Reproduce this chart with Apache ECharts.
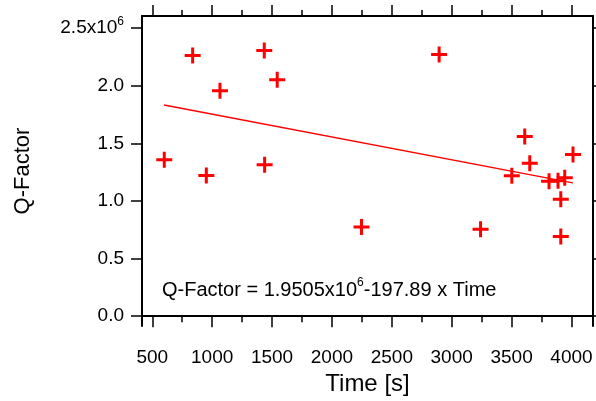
<!DOCTYPE html>
<html>
<head>
<meta charset="utf-8">
<script src="https://cdn.jsdelivr.net/npm/echarts@6/dist/echarts.min.js"></script>
<style>
  html, body { margin: 0; padding: 0; background: #fff; }
  #chart { width: 596px; height: 401px; }
</style>
</head>
<body>
<div id="chart"></div>
<script>
// measured points: time [s], Q-factor
const timeVals = [600, 837, 1065, 951, 1435, 1543, 1438, 2247, 2895, 3241, 3502, 3610, 3652, 3813, 3888, 3944, 3911, 3911, 4013];
const qVals = [1.358e6, 2.262e6, 1.956e6, 1.222e6, 2.305e6, 2.051e6, 1.315e6, 0.774e6, 2.270e6, 0.754e6,
               1.219e6, 1.560e6, 1.328e6, 1.170e6, 1.176e6, 1.202e6, 1.014e6, 0.691e6, 1.404e6];
// fit line end points
const fitLine = [[598, 1.832e6], [4012, 1.157e6]];

const xTicks = [500, 1000, 1500, 2000, 2500, 3000, 3500, 4000];
const xMinorTicks = [750, 1250, 1750, 2250, 2750, 3250, 3750];
const yTicks = [0, 0.5e6, 1.0e6, 1.5e6, 2.0e6, 2.5e6];

const X_MIN = 414, X_MAX = 4180;
const Y_MIN = -0.085e6, Y_MAX = 2.605e6;
const FONT = 'Liberation Sans, Arial, sans-serif';

const plus = 'path://M6.5,0 H9.5 V6.5 H16 V9.5 H9.5 V16 H6.5 V9.5 H0 V6.5 H6.5 Z';

const chart = echarts.init(document.getElementById('chart'));

function xAx(pos, ticks, len, main) {
  return {
    type: 'value', position: pos, min: X_MIN, max: X_MAX,
    name: main ? 'Time [s]' : '',
    nameLocation: 'middle', nameGap: 44,
    nameTextStyle: { fontFamily: FONT, fontSize: 24, color: '#000' },
    axisLine: { show: main, lineStyle: { color: '#000', width: 2 } },
    axisTick: { show: true, customValues: ticks, length: len, lineStyle: { color: '#000', width: 1.5 } },
    axisLabel: {
      show: main && pos === 'bottom', customValues: ticks, margin: 22,
      fontFamily: FONT, fontSize: 19, color: '#000',
      formatter: v => String(v)
    },
    splitLine: { show: false }
  };
}

const option = {
  backgroundColor: '#fff',
  animation: false,
  grid: { left: 142, right: 3, top: 16, bottom: 75, containLabel: false },
  title: {
    text: 'Q-Factor = 1.9505x10{sup|6}-197.89 x Time',
    left: 157, top: 272,
    textStyle: {
      fontFamily: FONT, fontSize: 20, fontWeight: 'normal', color: '#000',
      rich: { sup: { fontFamily: FONT, fontSize: 12, color: '#000', padding: [0, 0, 14, 0] } }
    }
  },
  xAxis: [
    xAx('bottom', xTicks, 11, true),
    xAx('bottom', xMinorTicks, 6, false),
    Object.assign(xAx('top', xTicks, 11, false), { axisLine: { show: true, lineStyle: { color: '#000', width: 2 } } }),
    xAx('top', xMinorTicks, 6, false)
  ],
  yAxis: [
    {
      type: 'value', position: 'left', min: Y_MIN, max: Y_MAX,
      name: 'Q-Factor', nameLocation: 'middle', nameGap: 108,
      nameTextStyle: { fontFamily: FONT, fontSize: 22, color: '#000' },
      axisLine: { show: true, lineStyle: { color: '#000', width: 2 } },
      axisTick: { show: true, customValues: yTicks, length: 11, lineStyle: { color: '#000', width: 1.5 } },
      axisLabel: {
        customValues: yTicks, margin: 18, fontFamily: FONT, fontSize: 19, color: '#000',
        formatter: function (v) {
          const s = (v / 1e6).toFixed(1);
          return v === 2.5e6 ? s + 'x10{sup|6}' : s;
        },
        rich: { sup: { fontFamily: FONT, fontSize: 12, color: '#000', padding: [0, 0, 12, 0] } }
      },
      splitLine: { show: false }
    },
    {
      type: 'value', position: 'right', min: Y_MIN, max: Y_MAX,
      axisLine: { show: true, lineStyle: { color: '#000', width: 2 } },
      axisTick: { show: true, customValues: yTicks, length: 11, lineStyle: { color: '#000', width: 1.5 } },
      axisLabel: { show: false },
      splitLine: { show: false }
    }
  ],
  series: [
    {
      type: 'line', xAxisIndex: 0, yAxisIndex: 0,
      data: fitLine, showSymbol: false, symbol: 'none',
      lineStyle: { color: '#ff0000', width: 1.5 }, z: 2
    },
    {
      type: 'scatter', xAxisIndex: 0, yAxisIndex: 0,
      data: timeVals.map((t, i) => [t, qVals[i]]),
      symbol: plus, symbolSize: 16,
      itemStyle: { color: '#ff0000', opacity: 1 }, z: 3
    }
  ]
};
chart.setOption(option);
</script>
</body>
</html>
